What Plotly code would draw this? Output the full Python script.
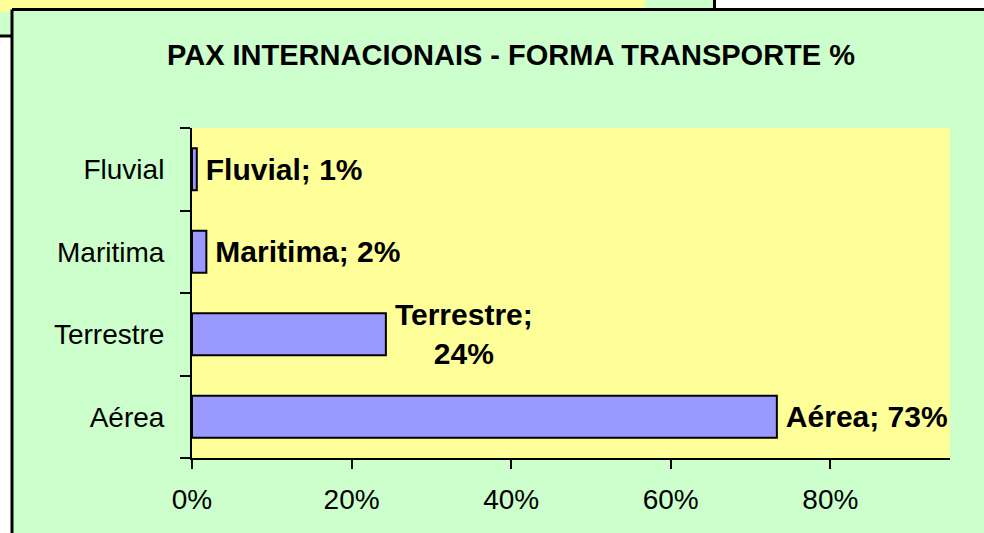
import plotly.graph_objects as go

W, H = 984, 533

# data
categories = ["Aérea", "Terrestre", "Maritima", "Fluvial"]
shares = [0.733, 0.243, 0.018, 0.006]
pct_labels = ["73%", "24%", "2%", "1%"]
x_ticks = [0, 0.2, 0.4, 0.6, 0.8]
x_tick_text = ["0%", "20%", "40%", "60%", "80%"]

def px(x):
    return x / W

def py(y):
    return 1 - y / H

SP = "\u2009"  # thin space, pushes the labels a bit off the bar end
labels = []
for c, p in zip(categories, pct_labels):
    if c == "Terrestre":
        labels.append(f"{SP}{c};<br>{SP}{p}")
    else:
        labels.append(f"{SP}{c}; {p}")

fig = go.Figure()
fig.add_trace(go.Bar(
    y=categories, x=shares, orientation='h',
    marker=dict(color='#9999FF', line=dict(color='black', width=2)),
    text=labels, textposition='outside', cliponaxis=False, constraintext='none',
    textfont=dict(family='Liberation Sans, Arial, sans-serif', size=30, color='black', weight='bold'),
    hoverinfo='skip', showlegend=False,
))

# background pieces of the sheet behind the chart
bg = [
    (0, 0, 645, 12, '#FFFF99'),
    (645, 0, 713, 10, '#CCFFCC'),
    (0, 12, 12, 35, '#CCFFCC'),
    (12, 9.5, W, H, '#CCFFCC'),   # main chart area
]
for x0, y0, x1, y1, fc in bg:
    fig.add_shape(type='rect', xref='paper', yref='paper', x0=px(x0), y0=py(y0), x1=px(x1), y1=py(y1),
                  fillcolor=fc, line=dict(width=0), layer='below')
# borders
edges = [
    (714.5, 0, 714.5, 10),
    (0, 36, 12, 36),
    (12, 9.5, W, 9.5),
    (12, 9.5, 12, H),
]
for x0, y0, x1, y1 in edges:
    fig.add_shape(type='line', xref='paper', yref='paper', x0=px(x0), y0=py(y0), x1=px(x1), y1=py(y1),
                  line=dict(color='black', width=3), layer='below')
# plot area
fig.add_shape(type='rect', xref='x domain', yref='y domain', x0=0, y0=0, x1=1, y1=1,
              fillcolor='#FFFF99', line=dict(width=0), layer='below')

fig.update_layout(
    width=W, height=H, autosize=False,
    margin=dict(l=0, r=0, t=0, b=0, pad=0),
    paper_bgcolor='white', plot_bgcolor='#FFFF99',
    bargap=0.49,
    title=dict(text='<b>PAX INTERNACIONAIS - FORMA TRANSPORTE %</b>',
               font=dict(family='Liberation Sans, Arial, sans-serif', size=29, color='black'),
               xref='paper', yref='paper', x=px(511), y=py(55), xanchor='center', yanchor='middle'),
    xaxis=dict(domain=[px(192), px(950)], range=[0, 0.95], tickvals=x_ticks, ticktext=x_tick_text,
               showgrid=False, zeroline=False, showline=True, linecolor='black', linewidth=2,
               ticks='outside', ticklen=9, tickwidth=2, tickcolor='black', ticklabelstandoff=6,
               automargin=False,
               tickfont=dict(family='Liberation Sans, Arial, sans-serif', size=28, color='black')),
    yaxis=dict(domain=[py(458), py(128)], type='category', categoryorder='array', categoryarray=categories,
               showgrid=False, zeroline=False, showline=True, linecolor='black', linewidth=2,
               ticks='outside', tickson='boundaries', ticklen=10, tickwidth=2, tickcolor='black',
               ticklabelstandoff=20, automargin=False,
               tickfont=dict(family='Liberation Sans, Arial, sans-serif', size=28, color='black')),
    font=dict(family='Liberation Sans, Arial, sans-serif'),
)

# the page body has an 8px default margin; drop it (and any scrollbars) so the figure sits at the window corner
fig.write_html("out.html", config={'displayModeBar': False},
               post_script="document.body.style.margin='0'; document.body.style.overflow='hidden';")
